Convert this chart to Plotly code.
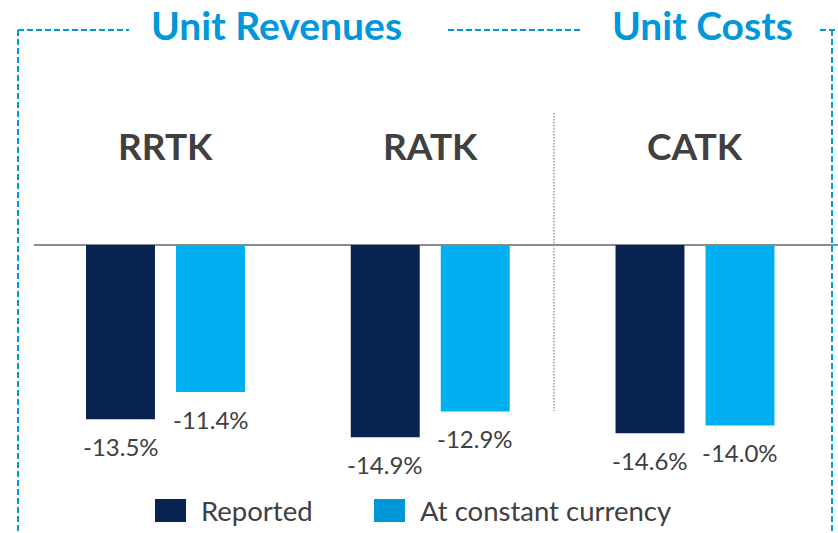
import plotly.graph_objects as go

# ---- data ----
categories = ["RRTK", "RATK", "CATK"]
reported = [-13.5, -14.9, -14.6]
constant_ccy = [-11.4, -12.9, -14.0]
series_names = ["Reported", "At constant currency"]
section_titles = ["Unit Revenues", "Unit Costs"]

W, H = 838, 533
NAVY = "#08234F"
CYAN = "#00B0F0"
CYAN_LEG = "#0097D8"
BLUE_T = "#0098DA"
GRAY_T = "#404040"
FONT = "Lato"


def px(x):
    return x / W


def py(y):
    return 1 - y / H


fig = go.Figure()
fig.add_bar(x=categories, y=reported, name=series_names[0], marker_color=NAVY,
            marker_line_width=0, showlegend=False, hoverinfo="skip")
fig.add_bar(x=categories, y=constant_ccy, name=series_names[1], marker_color=CYAN,
            marker_line_width=0, showlegend=False, hoverinfo="skip")

annotations = []
# value labels under bars
for vals, shift in ((reported, -45), (constant_ccy, 45)):
    for c, v in zip(categories, vals):
        annotations.append(dict(x=c, y=v, xref="x", yref="y", xshift=shift, yshift=-27,
                                text=f"{v:.1f}%", showarrow=False, yanchor="middle",
                                font=dict(family=FONT, size=24, color=GRAY_T)))
# category headers
for c in categories:
    annotations.append(dict(x=c, y=py(146), xref="x", yref="paper", text=f"<b>{c}</b>",
                            showarrow=False, yanchor="middle",
                            font=dict(family=FONT, size=37, color=GRAY_T)))
# section titles
annotations.append(dict(x=px(276), y=py(25), xref="paper", yref="paper",
                        text=f"<b>{section_titles[0]}</b>", showarrow=False,
                        xanchor="center", yanchor="middle",
                        font=dict(family=FONT, size=39, color=BLUE_T)))
annotations.append(dict(x=px(702), y=py(25), xref="paper", yref="paper",
                        text=f"<b>{section_titles[1]}</b>", showarrow=False,
                        xanchor="center", yanchor="middle",
                        font=dict(family=FONT, size=39, color=BLUE_T)))
# legend texts
annotations.append(dict(x=px(199), y=py(511), xref="paper", yref="paper", text=series_names[0],
                        showarrow=False, xanchor="left", yanchor="middle",
                        font=dict(family=FONT, size=27.5, color=GRAY_T)))
annotations.append(dict(x=px(418), y=py(511), xref="paper", yref="paper", text=series_names[1],
                        showarrow=False, xanchor="left", yanchor="middle",
                        font=dict(family=FONT, size=27.5, color=GRAY_T)))

shapes = []
dash_line = dict(color=BLUE_T, width=2, dash="6px,3px")
# dashed frame
shapes.append(dict(type="line", xref="paper", yref="paper", x0=px(18), x1=px(129),
                   y0=py(30), y1=py(30), line=dash_line))
shapes.append(dict(type="line", xref="paper", yref="paper", x0=px(18), x1=px(18),
                   y0=py(30), y1=py(533), line=dash_line))
shapes.append(dict(type="line", xref="paper", yref="paper", x0=px(448), x1=px(583),
                   y0=py(30), y1=py(30), line=dash_line))
shapes.append(dict(type="line", xref="paper", yref="paper", x0=px(820), x1=px(838),
                   y0=py(30), y1=py(30), line=dash_line))
shapes.append(dict(type="line", xref="paper", yref="paper", x0=px(832), x1=px(832),
                   y0=py(30), y1=py(533), line=dash_line))
# zero line
shapes.append(dict(type="line", xref="paper", yref="y", x0=px(34), x1=1, y0=0, y1=0,
                   line=dict(color="#8C8C8C", width=2), layer="below"))
# dotted separator
shapes.append(dict(type="line", xref="paper", yref="paper", x0=px(554), x1=px(554),
                   y0=py(113), y1=py(411), line=dict(color="#999999", width=1.5, dash="1.5px,1.5px")))
# legend squares
shapes.append(dict(type="rect", xref="paper", yref="paper", x0=px(155), x1=px(186),
                   y0=py(522), y1=py(499), line_width=0, fillcolor=NAVY))
shapes.append(dict(type="rect", xref="paper", yref="paper", x0=px(374), x1=px(405),
                   y0=py(522), y1=py(499), line_width=0, fillcolor=CYAN_LEG))

unit_px = 264.75
x0 = -165.5 / unit_px
yscale = 12.9
fig.update_layout(
    width=W, height=H, margin=dict(l=0, r=0, t=0, b=0),
    paper_bgcolor="white", plot_bgcolor="white",
    barmode="group", bargap=0.32, bargroupgap=0.234,
    xaxis=dict(visible=False, range=[x0, x0 + W / unit_px], fixedrange=True),
    yaxis=dict(visible=False, range=[-(H - 245) / yscale, 245 / yscale], fixedrange=True),
    annotations=annotations, shapes=shapes, showlegend=False, hovermode=False,
)
fig.write_html("out.html", config={"displayModeBar": False, "staticPlot": True},
               post_script="document.body.style.margin='0';document.body.style.overflow='hidden';")
